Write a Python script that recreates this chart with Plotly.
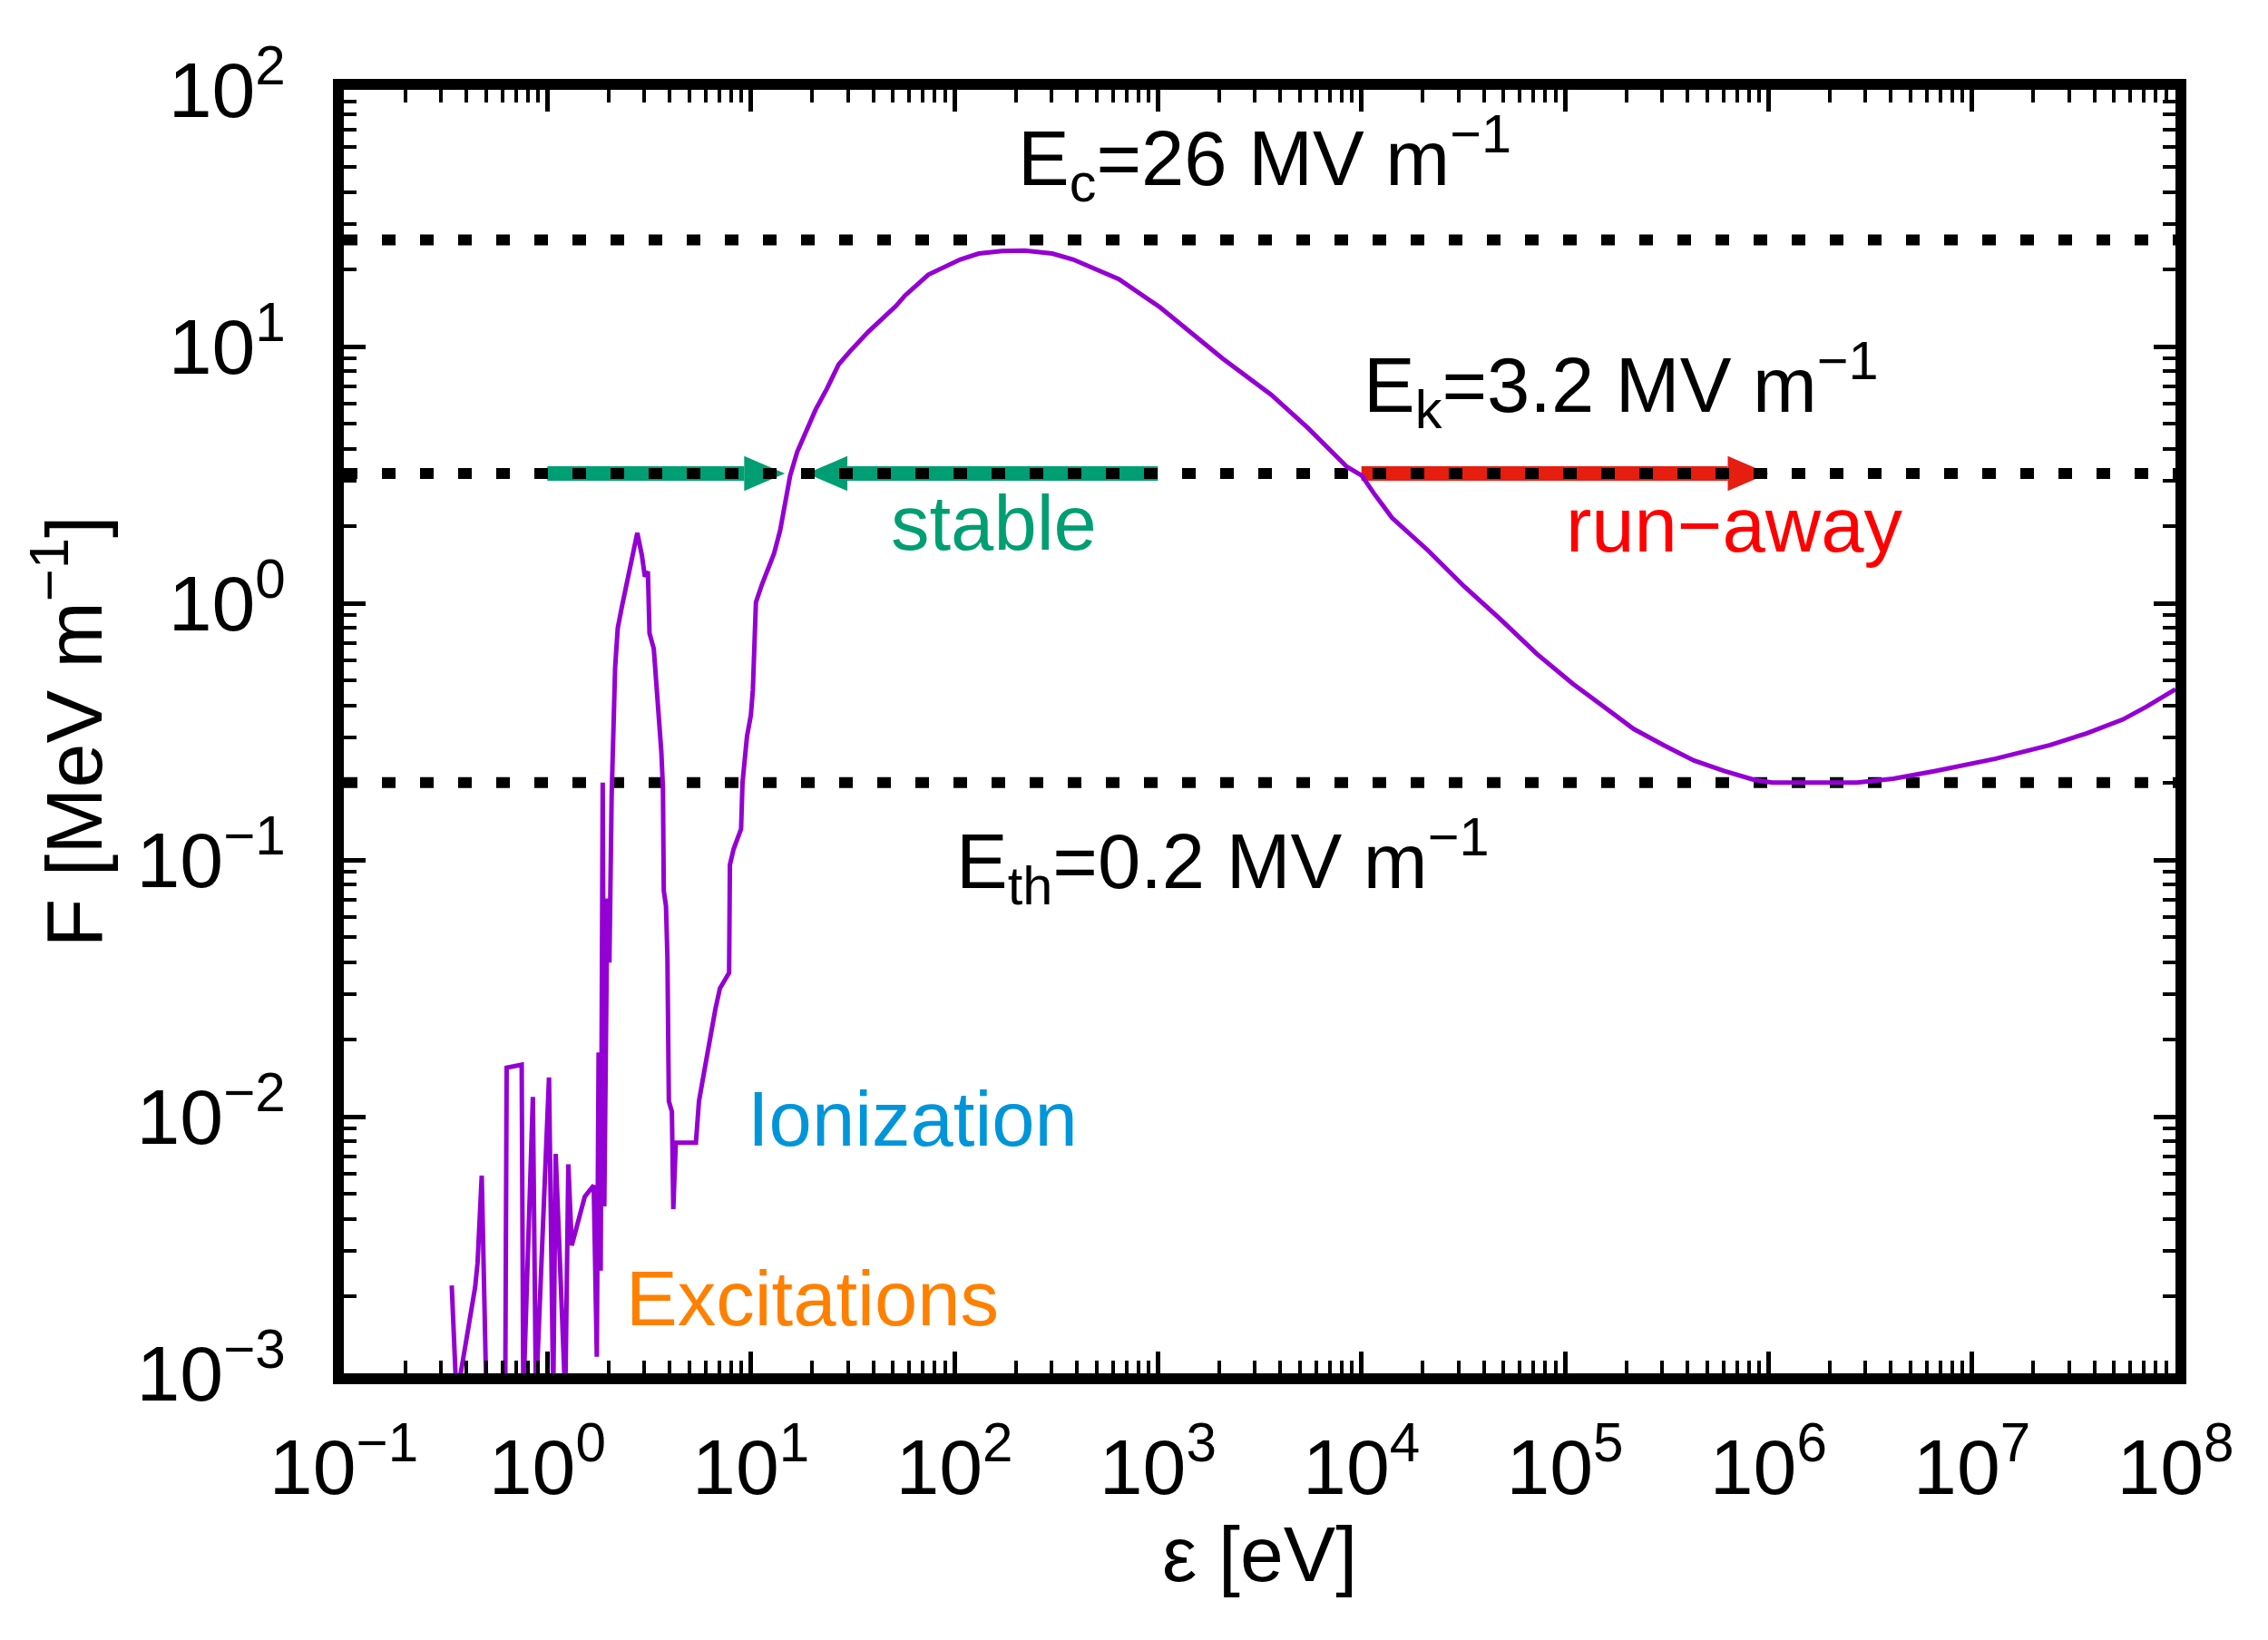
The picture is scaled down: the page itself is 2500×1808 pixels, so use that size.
import numpy as np
import plotly.graph_objects as go

# stopping force curve (energy in eV, F in MeV/m)
# points at 0.0008 are where the trace drops out through the bottom axis
energy_ev = [
    0.339, 0.358, 0.442, 0.454, 0.476, 0.502, 0.621, 0.631, 0.748, 0.762,
    0.849, 0.879, 1.019, 1.069, 1.099, 1.225, 1.268, 1.318, 1.528, 1.690,
    1.750, 1.786, 1.828, 1.871, 1.905, 1.972, 2.018, 2.070, 2.153, 2.218,
    2.333, 2.500, 2.767, 2.917, 3.013, 3.119, 3.177, 3.334, 3.516, 3.631,
    3.698, 3.733, 3.828, 3.890, 3.954, 4.093, 4.159, 4.276, 5.370, 5.559,
    5.848, 6.266, 6.699, 7.047, 7.816, 7.889, 8.222, 8.954, 9.099, 9.572,
    10.0, 10.23, 10.59, 11.35, 13.00, 13.93, 15.14, 15.60, 16.90, 18.24,
    20.80, 23.66, 26.98, 30.76, 37.84, 51.64, 57.28, 74.47, 106.9, 131.8,
    171.0, 221.8, 302.7, 382.8, 509.3, 642.7, 1028, 1439, 2080,
    3606, 5433, 8472, 10050, 11540, 14130, 21280, 32060, 48310, 72780,
    1.096e5, 1.545e5, 2.173e5, 3.055e5, 4.305e5, 6.053e5, 8.511e5, 1.045e6, 1.687e6, 2.716e6,
    4.102e6, 6.607e6, 1.309e7, 2.421e7, 3.648e7, 5.495e7, 7.228e7, 9.506e7, 1e8,
]
force_mev = [
    0.00220, 0.0008, 0.00217, 0.00269, 0.00589, 0.0008, 0.0008, 0.01552, 0.01592, 0.0008,
    0.01194, 0.0008, 0.01422, 0.0008, 0.00716, 0.0008, 0.00652, 0.00315, 0.00488, 0.00540,
    0.00116, 0.01778, 0.00251, 0.200, 0.00447, 0.0708, 0.0398, 0.178, 0.562, 0.80,
    0.984, 1.27, 1.88, 1.53, 1.27, 1.33, 0.764, 0.665, 0.382, 0.264,
    0.191, 0.0760, 0.0661, 0.0418, 0.01148, 0.01045, 0.00436, 0.00791, 0.00791, 0.01148,
    0.01442, 0.0199, 0.0263, 0.0316, 0.0363, 0.0957, 0.110, 0.132, 0.200, 0.303,
    0.366, 0.460, 1.008, 1.186, 1.563, 1.923, 2.661, 3.141, 3.890, 4.457,
    5.675, 6.855, 8.511, 9.594, 11.43, 14.39, 15.81, 19.05, 21.83, 23.01,
    23.55, 23.66, 23.01, 21.83, 19.86, 18.32, 14.19, 11.43, 8.974,
    6.486, 4.831, 3.404, 3.141, 2.673, 2.153, 1.603, 1.161, 0.865, 0.635,
    0.485, 0.396, 0.324, 0.280, 0.244, 0.222, 0.205, 0.200, 0.200, 0.200,
    0.207, 0.222, 0.248, 0.280, 0.311, 0.352, 0.396, 0.454, 0.462,
]

# field levels E_c, E_k, E_th in MV/m
field_levels = [26, 3.2, 0.2]

# arrows drawn along E_k
arrow_tail = [1, 1000, 1e4]
arrow_tip = [14.7, 18.8, 1e6]
arrow_colors = ['#009e73', '#009e73', '#e51e10']

x_tickvals = [0.1, 1, 10, 100, 1e3, 1e4, 1e5, 1e6, 1e7, 1e8]
x_ticktext = ['10<sup>\u22121</sup>', '10<sup>0</sup>', '10<sup>1</sup>', '10<sup>2</sup>', '10<sup>3</sup>',
              '10<sup>4</sup>', '10<sup>5</sup>', '10<sup>6</sup>', '10<sup>7</sup>', '10<sup>8</sup>']
y_tickvals = [1e-3, 1e-2, 1e-1, 1, 10, 100]
y_ticktext = ['10<sup>\u22123</sup>', '10<sup>\u22122</sup>', '10<sup>\u22121</sup>', '10<sup>0</sup>',
              '10<sup>1</sup>', '10<sup>2</sup>']

FONT = 'Liberation Sans, Arial, sans-serif'
head_len = 0.2     # arrow head length in decades of x
head_half = 0.068  # arrow head half height in decades of y

fig = go.Figure()

# arrows first so the dotted lines sit on top of them
for tail, tip, col in zip(arrow_tail, arrow_tip, arrow_colors):
    lt, lp = np.log10(tail), np.log10(tip)
    d = np.sign(lp - lt)
    base = 10 ** (lp - d * head_len)
    fig.add_trace(go.Scatter(x=[tail, base], y=[field_levels[1]] * 2, mode='lines',
                             line=dict(color=col, width=16), showlegend=False, hoverinfo='skip'))
    fig.add_trace(go.Scatter(x=[tip, base, base, tip],
                             y=[field_levels[1], field_levels[1] * 10 ** head_half,
                                field_levels[1] / 10 ** head_half, field_levels[1]],
                             mode='lines', fill='toself', fillcolor=col, line=dict(width=0),
                             showlegend=False, hoverinfo='skip'))

for lev in field_levels:
    fig.add_trace(go.Scatter(x=[0.1, 1e8], y=[lev, lev], mode='lines',
                             line=dict(color='black', width=12, dash='15px,27px'),
                             showlegend=False, hoverinfo='skip'))

fig.add_trace(go.Scatter(x=energy_ev, y=force_mev, mode='lines',
                         line=dict(color='#9400d3', width=5), showlegend=False))

axis_common = dict(
    type='log', showline=True, linewidth=12, linecolor='black', mirror='allticks',
    ticks='inside', ticklen=24, tickwidth=5, tickcolor='black',
    tickfont=dict(size=86, color='black', family=FONT),
    showgrid=False, zeroline=False,
    minor=dict(ticks='inside', ticklen=14, tickwidth=4, tickcolor='black', dtick='D1', showgrid=False),
)

fig.update_xaxes(axis_common, range=[-1, 8], tickvals=x_tickvals, ticktext=x_ticktext,
                 ticklabelstandoff=18,
                 title=dict(text='\u03b5 [eV]', font=dict(size=86, color='black', family=FONT), standoff=22))
fig.update_yaxes(axis_common, range=[-3, 2], tickvals=y_tickvals, ticktext=y_ticktext,
                 ticklabelstandoff=35,
                 title=dict(text='F [MeV m<sup>\u22121</sup>]', font=dict(size=88, color='black', family=FONT),
                            standoff=14))

labels = [
    ('E<sub>c</sub>=26 MV m<sup>\u22121</sup>', 2.302, 1.733, 'left', 'black'),
    ('E<sub>k</sub>=3.2 MV m<sup>\u22121</sup>', 4.003, 0.849, 'left', 'black'),
    ('E<sub>th</sub>=0.2 MV m<sup>\u22121</sup>', 1.998, -1.007, 'left', 'black'),
    ('stable', 2.196, 0.311, 'center', '#009e73'),
    ('run\u2212away', 5.832, 0.307, 'center', '#ff0000'),
    ('Ionization', 1.795, -2.008, 'center', '#0095d9'),
    ('Excitations', 1.302, -2.708, 'center', '#ff8000'),
]
for text, lx, ly, anchor, col in labels:
    fig.add_annotation(text=text, x=lx, y=ly, xref='x', yref='y', xanchor=anchor, yanchor='middle',
                       showarrow=False, font=dict(size=85, color=col, family=FONT))

fig.update_layout(
    width=2500, height=1808,
    margin=dict(l=371, r=110, t=91, b=302),
    plot_bgcolor='white', paper_bgcolor='white',
    font=dict(family=FONT, color='black'),
)

fig.write_html('out.html')
